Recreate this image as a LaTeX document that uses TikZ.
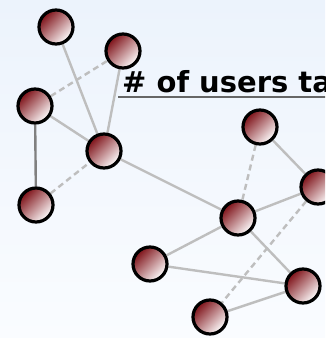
\documentclass[tikz,border=0pt]{standalone}
\usepackage{fontspec}
\newfontfamily\headfont{DejaVu Sans}
\pgfdeclarelayer{back}
\pgfsetlayers{back,main}
\definecolor{bgtop}{RGB}{236,243,252}
\definecolor{bgbot}{RGB}{250,252,255}
\definecolor{userdark}{RGB}{125,16,22}
\definecolor{usermid}{RGB}{182,96,100}
\definecolor{linkgray}{RGB}{190,190,190}
\definecolor{linkdark}{RGB}{128,128,128}
\tikzset{
  user/.style={circle, minimum size=34pt, inner sep=0pt, draw=black, line width=3.2pt,
    top color=userdark, middle color=usermid, bottom color=white, shading angle=45},
  link/.style={draw=linkgray, line width=2.4pt},
  weak/.style={link, dash pattern=on 6pt off 4pt},
  strong/.style={draw=linkdark, line width=2.4pt},
  rule/.style={draw=black!60, line width=2pt}
}
\begin{document}
\begin{tikzpicture}[x=1pt,y=-1pt]
  % canvas and light backdrop
  \useasboundingbox (0,0) rectangle (325,338);
  \clip (0,0) rectangle (325,338);
  \begin{pgfonlayer}{back}
    \shade[top color=bgtop, bottom color=bgbot] (0,0) rectangle (325,338);
  \end{pgfonlayer}

  % heading, cut off at the right edge
  \node[anchor=base west, inner sep=0pt, font=\headfont\bfseries\fontsize{29}{32}\selectfont]
    (title) at (122,92) {\# of users ta};
  \draw[rule] ([xshift=-4pt,yshift=-5pt]title.base west) -- ([xshift=300pt,yshift=-5pt]title.base west);

  % users
  \node[user] (a) at (56,27) {};
  \node[user] (b) at (123,51) {};
  \node[user] (c) at (35,106) {};
  \node[user] (d) at (104,151) {};
  \node[user] (e) at (36,205) {};
  \node[user] (f) at (260,127) {};
  \node[user] (g) at (318,187) {};
  \node[user] (h) at (238,218) {};
  \node[user] (i) at (150,264) {};
  \node[user] (j) at (303,286) {};
  \node[user] (k) at (210,317) {};

  % links between users, kept beneath the circles
  \begin{pgfonlayer}{back}
    \draw[link] (a) -- (d);
    \draw[weak] (c) -- (b);
    \draw[link] (b) -- (d);
    \draw[link] (c) -- (d);
    \draw[strong] (c) -- (e);
    \draw[weak] (e) -- (d);
    \draw[link] (d) -- (h);
    \draw[weak] (f) -- (h);
    \draw[link] (f) -- (g);
    \draw[link] (g) -- (h);
    \draw[weak] (g) -- (k);
    \draw[link] (h) -- (j);
    \draw[link] (h) -- (i);
    \draw[link] (i) -- (j);
    \draw[link] (j) -- (k);
  \end{pgfonlayer}
\end{tikzpicture}
\end{document}
